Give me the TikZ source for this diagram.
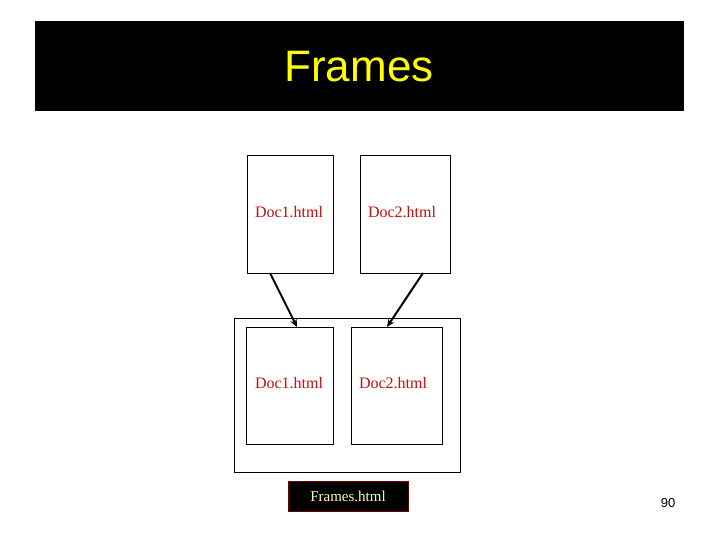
\documentclass[tikz,border=0pt]{standalone}
\usepackage{fontspec}
\setmainfont{Liberation Serif}
\newfontfamily\titlefont{Liberation Sans}
\usetikzlibrary{arrows.meta}
\definecolor{docred}{RGB}{192,16,16}
\definecolor{titleyellow}{RGB}{255,255,0}
\definecolor{paleyellow}{RGB}{255,255,170}
\definecolor{darkredborder}{RGB}{110,0,0}
\tikzset{
  docbox/.style={draw=black, line width=1pt, fill=white},
  doclabel/.style={text=docred, font=\fontsize{16}{18}\selectfont, inner sep=0pt},
  linkarrow/.style={line width=2pt, -{Stealth[length=8pt,width=7pt]}}
}
\begin{document}
\begin{tikzpicture}[x=1pt,y=-1pt]
\useasboundingbox (0,0) rectangle (720,540);
\fill[white] (0,0) rectangle (720,540);
% title bar
\fill[black] (35,21) rectangle (684,111);
\node[text=titleyellow, font=\titlefont\fontsize{44}{48}\selectfont, inner sep=0pt] (title) at (359,67) {Frames};
% top documents
\draw[docbox] (247,156) rectangle (333,273);
\draw[docbox] (360,156) rectangle (450,273);
\coordinate (tlb) at (270,273);
\coordinate (trb) at (423,273);
\node[doclabel] (tl) at (289,212) {Doc1.html};
\node[doclabel] (tr) at (402,212) {Doc2.html};
% frames outer
\draw[docbox] (234,318) rectangle (460,472);
\draw[docbox] (246,327) rectangle (333,444);
\draw[docbox] (351,327) rectangle (442,444);
\coordinate (blt) at (297,327);
\coordinate (brt) at (387,327);
\node[doclabel] (bl) at (289,383) {Doc1.html};
\node[doclabel] (br) at (393,383) {Doc2.html};
% arrows
\draw[linkarrow] (tlb) -- (blt);
\draw[linkarrow] (trb) -- (brt);
% frames.html label
\node[draw=darkredborder, line width=1pt, fill=black, text=paleyellow, font=\fontsize{15}{17}\selectfont, minimum width=120pt, minimum height=30pt, inner sep=0pt] (fr) at (348,496) {Frames.html};
% page number
\node[font=\titlefont\fontsize{13}{15}\selectfont, inner sep=0pt] (pg) at (668,503) {90};
\end{tikzpicture}
\end{document}
